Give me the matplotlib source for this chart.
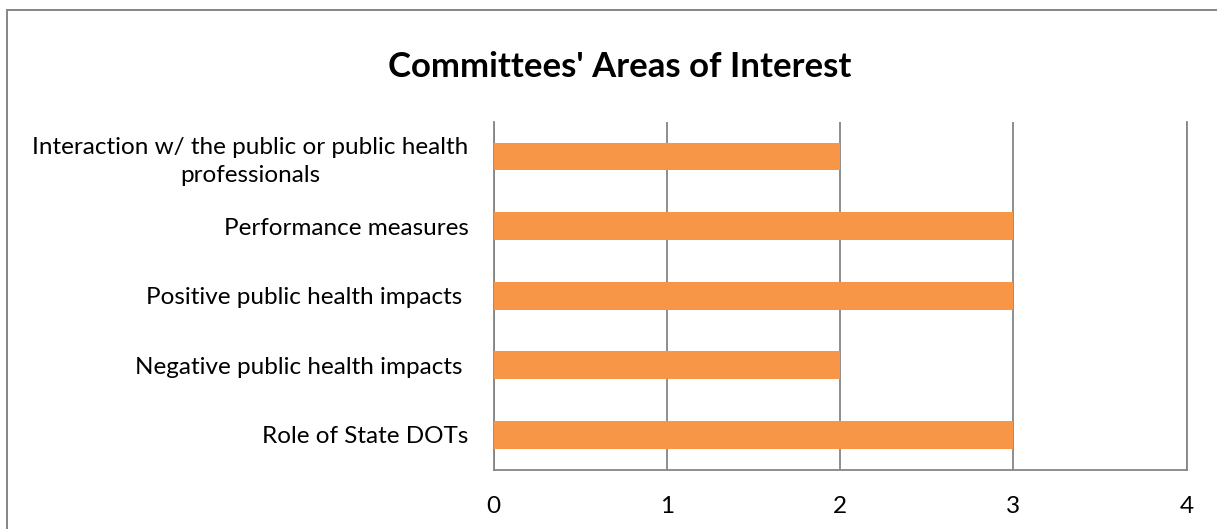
import matplotlib
matplotlib.use("Agg")
import matplotlib.pyplot as plt
from matplotlib.patches import Rectangle

categories = [
    "Role of State DOTs",
    "Negative public health impacts ",
    "Positive public health impacts ",
    "Performance measures",
    "Interaction w/ the public or public health\nprofessionals",
]
values = [3, 2, 3, 3, 2]
xticks = [0, 1, 2, 3, 4]
title = "Committees' Areas of Interest"

W, H = 1217, 529
fig = plt.figure(figsize=(W / 100, H / 100), dpi=100)
plt.rcParams['font.family'] = ['Lato', 'DejaVu Sans']

# outer chart border (extends beyond right/bottom edges)
fig.patches.append(Rectangle((6.5 / W, -0.05), 1.2, 1 - 9.5 / H + 0.05,
                             transform=fig.transFigure, fill=False,
                             edgecolor='#868686', linewidth=1.4))

ax = fig.add_axes([493.5 / W, 1 - 469.5 / H, (1186.7 - 493.5) / W, (469.5 - 121.7) / H])
ypos = list(range(len(categories)))
ax.barh(ypos, values, height=0.4, color='#F79646', zorder=3)
ax.set_xlim(0, 4)
ax.set_ylim(-0.5, len(categories) - 0.5)
ax.set_xticks(xticks)
ax.set_xticklabels([str(t) for t in xticks])
ax.set_yticks(ypos)
ax.set_yticklabels(categories, multialignment='center', linespacing=1.38)
ax.tick_params(axis='both', length=0, labelsize=17.5, colors='black')
ax.tick_params(axis='x', pad=19)
ax.tick_params(axis='y', pad=18)
ax.xaxis.grid(True, color='#868686', linewidth=1.3, zorder=0)
ax.yaxis.grid(False)
for s in ['left', 'bottom', 'right']:
    ax.spines[s].set_color('#868686')
    ax.spines[s].set_linewidth(1.3)
ax.spines['top'].set_visible(False)

fig.text(620 / W, 1 - 67 / H, title, ha='center', va='center',
         fontsize=25, fontweight='bold')

fig.savefig("out.png", dpi=100)
